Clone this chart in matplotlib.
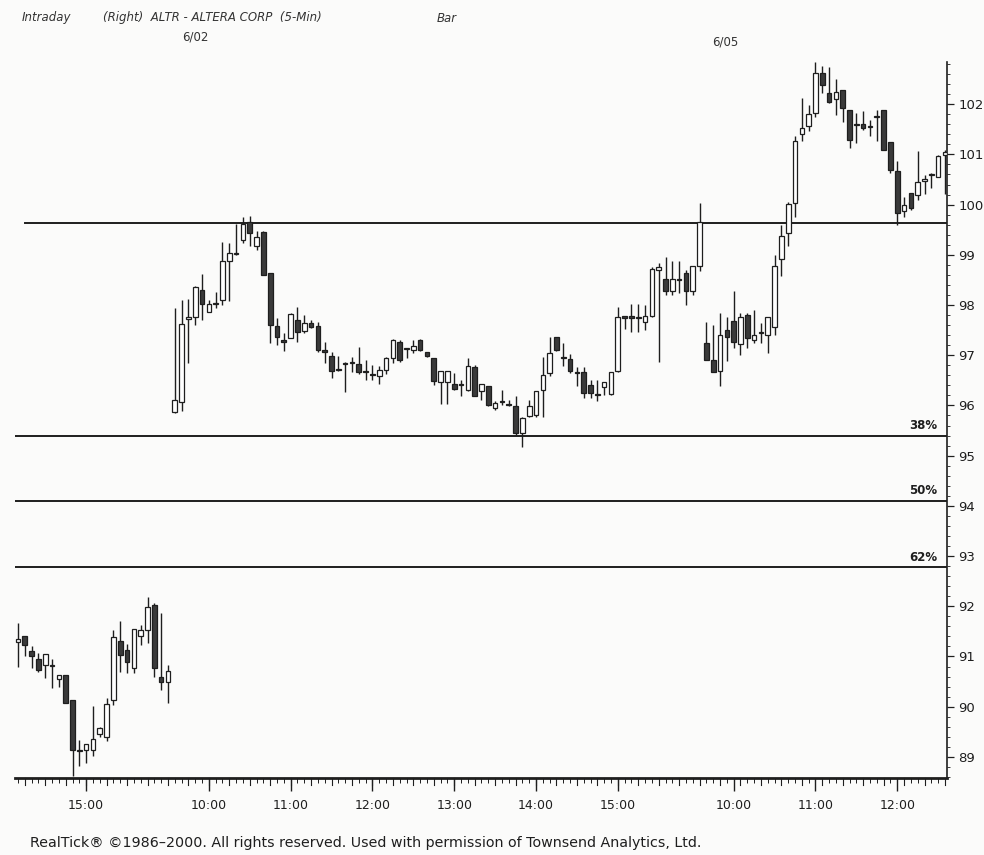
#!/usr/bin/env python3
# -*- coding: utf-8 -*-
"""ALTR 5-min candles (6/01 - 6/05) with resistance line and Fibonacci retracements."""

import numpy as np
import matplotlib
matplotlib.use("Agg")
import matplotlib.pyplot as plt
from matplotlib.ticker import FixedLocator, MultipleLocator

# ------------ DATA ------------
SESSIONS = ["6/01", "6/02", "6/05"]
SESSION_BARS = [23, 78, 36]

# 6/01 afternoon
OPEN_0601 = [91.28, 91.40, 91.10, 90.96, 90.83, 90.81, 90.55, 90.63, 90.14, 89.11, 89.14, 89.13,
             89.46, 89.39, 90.14, 91.31, 91.13, 90.77, 91.40, 91.53, 92.03, 90.60, 90.50]
HIGH_0601 = [91.66, 91.40, 91.20, 91.06, 91.05, 90.96, 90.63, 90.63, 90.14, 89.34, 89.25, 90.02,
             89.60, 90.17, 91.52, 91.70, 91.25, 91.54, 91.63, 92.19, 92.06, 91.86, 90.83]
LOW_0601 = [90.80, 91.00, 90.77, 90.70, 90.57, 90.37, 90.40, 90.07, 88.61, 88.81, 88.87, 89.02,
            89.40, 89.31, 90.04, 90.70, 90.67, 90.67, 91.23, 91.26, 90.59, 90.33, 90.07]
CLOSE_0601 = [91.34, 91.23, 91.01, 90.73, 91.05, 90.82, 90.63, 90.07, 89.14, 89.12, 89.25, 89.35,
              89.57, 90.06, 91.38, 91.03, 90.90, 91.54, 91.52, 91.98, 90.77, 90.50, 90.72]

# 6/02 full session
OPEN_0602 = [95.86, 96.06, 97.72, 97.76, 98.30, 97.87, 98.02, 98.10, 98.87, 99.02, 99.30, 99.66, 99.18,
             99.46, 98.63, 97.59, 97.28, 97.34, 97.70, 97.49, 97.65, 97.59, 97.08, 96.98, 96.72, 96.84,
             96.84, 96.83, 96.68, 96.62, 96.59, 96.70, 96.94, 97.27, 97.12, 97.10, 97.31, 97.07, 96.94,
             96.46, 96.46, 96.43, 96.41, 96.31, 96.76, 96.28, 96.38, 95.95, 96.08, 96.01, 95.98, 95.45,
             95.79, 95.81, 96.31, 96.64, 97.36, 96.96, 96.92, 96.66, 96.66, 96.41, 96.21, 96.36, 96.23,
             96.68, 97.76, 97.76, 97.74, 97.67, 97.79, 98.69, 98.52, 98.27, 98.50, 98.63, 98.27, 98.78]
HIGH_0602 = [97.94, 98.10, 98.12, 98.38, 98.62, 98.10, 98.25, 99.25, 99.23, 99.62, 99.75, 99.78, 99.48,
             99.48, 98.63, 97.74, 97.44, 97.84, 97.97, 97.81, 97.70, 97.67, 97.27, 97.07, 96.98, 96.86,
             96.96, 97.16, 96.90, 96.81, 96.78, 96.96, 97.32, 97.31, 97.14, 97.31, 97.32, 97.07, 96.94,
             96.69, 96.69, 96.64, 96.51, 96.94, 96.81, 96.43, 96.38, 96.08, 96.31, 96.11, 96.18, 95.78,
             96.11, 96.28, 96.97, 97.36, 97.36, 97.24, 97.03, 96.77, 96.77, 96.51, 96.51, 96.47, 96.66,
             97.96, 97.76, 98.02, 98.02, 98.00, 98.75, 98.83, 98.95, 98.87, 98.87, 98.70, 98.78, 100.04]
LOW_0602 = [95.85, 95.88, 96.84, 97.60, 97.71, 97.87, 97.94, 98.00, 98.09, 99.00, 99.23, 99.17, 99.10,
            98.60, 97.24, 97.21, 97.08, 97.34, 97.27, 97.44, 97.54, 97.07, 96.84, 96.54, 96.68, 96.26,
            96.66, 96.63, 96.51, 96.51, 96.43, 96.63, 96.84, 96.86, 96.94, 97.04, 97.08, 96.97, 96.40,
            96.02, 96.02, 96.31, 96.18, 96.28, 96.18, 96.11, 95.98, 95.91, 96.01, 95.98, 95.42, 95.18,
            95.78, 95.78, 95.78, 96.58, 97.08, 96.78, 96.64, 96.38, 96.14, 96.14, 96.08, 96.21, 96.21,
            96.66, 97.52, 97.47, 97.47, 97.50, 97.77, 96.87, 98.20, 98.20, 98.24, 98.00, 98.20, 98.67]
CLOSE_0602 = [96.11, 97.62, 97.76, 98.36, 98.02, 98.02, 98.05, 98.87, 99.03, 99.04, 99.62, 99.44, 99.35,
              98.60, 97.61, 97.36, 97.27, 97.82, 97.47, 97.64, 97.57, 97.10, 97.07, 96.68, 96.71, 96.83,
              96.85, 96.66, 96.67, 96.61, 96.70, 96.94, 97.31, 96.90, 97.13, 97.19, 97.10, 96.98, 96.48,
              96.69, 96.69, 96.32, 96.40, 96.78, 96.18, 96.43, 96.01, 96.04, 96.07, 96.00, 95.45, 95.75,
              95.98, 96.28, 96.61, 97.04, 97.11, 96.95, 96.68, 96.65, 96.24, 96.24, 96.20, 96.47, 96.66,
              97.77, 97.75, 97.75, 97.77, 97.79, 98.71, 98.75, 98.27, 98.52, 98.49, 98.27, 98.78, 99.66]

# 6/05 morning
OPEN_0605 = [97.24, 96.90, 96.68, 97.50, 97.69, 97.23, 97.80, 97.31, 97.44, 97.41, 97.57, 98.91,
             99.44, 100.03, 101.41, 101.57, 101.83, 102.63, 102.22, 102.10, 102.29, 101.89, 101.59, 101.61,
             101.54, 101.74, 101.88, 101.24, 100.66, 99.88, 100.24, 100.20, 100.48, 100.59, 100.56, 100.99]
HIGH_0605 = [97.67, 97.60, 97.84, 97.77, 98.27, 97.84, 97.84, 97.90, 97.64, 97.77, 99.00, 99.60,
             100.05, 101.36, 102.12, 101.99, 102.85, 102.76, 102.75, 102.50, 102.29, 101.89, 101.82, 101.86,
             101.69, 101.89, 101.88, 101.24, 100.86, 100.16, 100.24, 101.06, 100.59, 100.63, 100.99, 101.09]
LOW_0605 = [96.91, 96.66, 96.38, 96.88, 97.14, 97.01, 97.14, 97.24, 97.24, 97.04, 97.41, 98.57,
            99.17, 99.76, 101.26, 101.46, 101.74, 102.23, 102.02, 101.79, 101.64, 101.12, 101.22, 101.49,
            101.37, 101.26, 101.09, 100.63, 99.60, 99.76, 99.90, 100.10, 100.22, 100.33, 100.56, 100.22]
CLOSE_0605 = [96.91, 96.66, 97.41, 97.36, 97.27, 97.77, 97.34, 97.41, 97.45, 97.77, 98.77, 99.38,
              100.02, 101.26, 101.52, 101.81, 102.63, 102.39, 102.05, 102.25, 101.92, 101.29, 101.60, 101.52,
              101.55, 101.76, 101.09, 100.69, 99.83, 99.99, 99.93, 100.46, 100.49, 100.60, 100.97, 101.04]

# horizontal levels
RESISTANCE = 99.64
FIB_LEVELS = [95.40, 94.10, 92.78]
FIB_LABELS = ["38%", "50%", "62%"]

# time axis: bar index of each labelled hour
HOUR_BARS = [10, 28, 40, 52, 64, 76, 88, 105, 117, 129]
HOUR_LABELS = ["15:00", "10:00", "11:00", "12:00", "13:00", "14:00", "15:00", "10:00", "11:00", "12:00"]
PRICE_TICKS = list(range(89, 103))
# -------------------------------------------------

INK = "#1e1e1e"
DARK_BODY = "#3a3a3a"
PAPER = "#fbfbfa"


def main():
    o = np.array(OPEN_0601 + OPEN_0602 + OPEN_0605)
    h = np.array(HIGH_0601 + HIGH_0602 + HIGH_0605)
    l = np.array(LOW_0601 + LOW_0602 + LOW_0605)
    c = np.array(CLOSE_0601 + CLOSE_0602 + CLOSE_0605)
    x = np.arange(len(o))

    fig = plt.figure(figsize=(9.84, 8.55), dpi=100, facecolor=PAPER)
    ax = fig.add_axes([15 / 984, 1 - 778 / 855, 932 / 984, 723 / 855])
    ax.set_facecolor(PAPER)

    # levels
    ax.axhline(RESISTANCE, xmin=0.011, xmax=1.0, color=INK, lw=1.4, zorder=1)
    for lev, lab in zip(FIB_LEVELS, FIB_LABELS):
        ax.axhline(lev, color=INK, lw=1.4, zorder=1)
        ax.text(134.9, lev + 0.07, lab, ha="right", va="bottom", fontsize=8.5,
                fontweight="bold", color=INK)

    # candles
    up = c >= o
    ax.vlines(x, l, h, color=INK, lw=1.0, zorder=2)
    bottom = np.minimum(o, c)
    height = np.maximum(np.abs(c - o), 0.025)
    ax.bar(x[up], height[up], bottom=bottom[up], width=0.68, facecolor="white",
           edgecolor=INK, linewidth=0.9, zorder=3)
    ax.bar(x[~up], height[~up], bottom=bottom[~up], width=0.68, facecolor=DARK_BODY,
           edgecolor=INK, linewidth=0.9, zorder=3)

    ax.set_xlim(-0.44, 136.3)
    ax.set_ylim(88.58, 102.98)

    # axes look
    for side in ["top", "left"]:
        ax.spines[side].set_visible(False)
    ax.spines["right"].set_linewidth(1.2)
    ax.spines["right"].set_bounds(88.58, 102.84)
    ax.spines["bottom"].set_linewidth(2.0)
    ax.spines["right"].set_color(INK)
    ax.spines["bottom"].set_color(INK)

    ax.yaxis.tick_right()
    ax.yaxis.set_major_locator(FixedLocator(PRICE_TICKS))
    ax.yaxis.set_minor_locator(MultipleLocator(0.2))
    ax.tick_params(axis="y", which="major", length=5, width=0.9, colors=INK, labelsize=9.5, pad=3)
    ax.tick_params(axis="y", which="minor", length=2.5, width=0.6, colors=INK)

    ax.xaxis.set_major_locator(FixedLocator(HOUR_BARS))
    ax.set_xticklabels(HOUR_LABELS)
    ax.xaxis.set_minor_locator(MultipleLocator(1))
    ax.tick_params(axis="x", which="major", length=9, width=1.0, colors=INK, labelsize=9, pad=6)
    ax.tick_params(axis="x", which="minor", length=3.5, width=0.7, colors=INK)
    # medium ticks every 15 min
    for xi in np.arange(1, 137, 3):
        ax.plot([xi, xi], [0, -0.009], transform=ax.get_xaxis_transform(), color=INK,
                lw=0.8, clip_on=False)

    # header
    hdr = dict(fontsize=8.5, style="italic", color="#333333", va="center")
    fig.text(22 / 984, 1 - 18 / 855, "Intraday", **hdr)
    fig.text(103 / 984, 1 - 18 / 855, "(Right)  ALTR - ALTERA CORP  (5-Min)", **hdr)
    fig.text(437 / 984, 1 - 18 / 855, "Bar", **hdr)
    fig.text(182 / 984, 1 - 37 / 855, SESSIONS[1], fontsize=8.5, color="#333333", va="center")
    fig.text(712 / 984, 1 - 42 / 855, SESSIONS[2], fontsize=8.5, color="#333333", va="center")

    # footer
    fig.text(30 / 984, 1 - 843 / 855,
             "RealTick\u00ae \u00a91986\u20132000. All rights reserved. Used with permission of Townsend Analytics, Ltd.",
             fontsize=10.3, color=INK, va="center")

    fig.savefig("out.png", dpi=100, facecolor=PAPER)
    plt.close(fig)


if __name__ == "__main__":
    main()
